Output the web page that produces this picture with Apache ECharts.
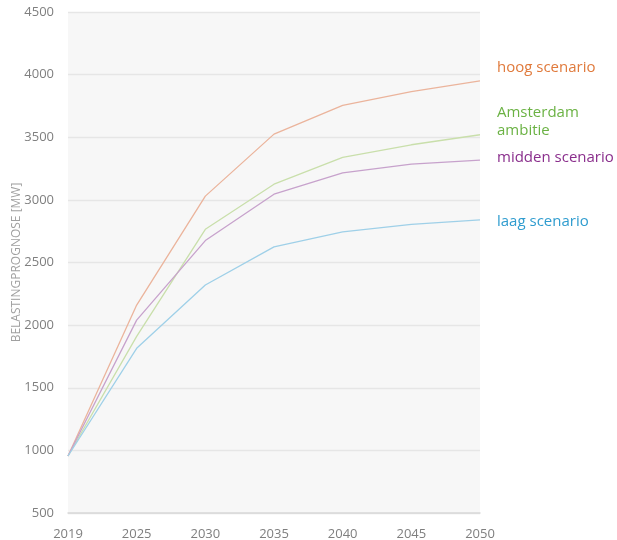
<!DOCTYPE html>
<html>
<head>
<meta charset="utf-8">
<script src="https://cdn.jsdelivr.net/npm/echarts@6/dist/echarts.min.js"></script>
<style>
html,body{margin:0;padding:0;background:#fff;}
#chart{width:617px;height:540px;}
</style>
</head>
<body>
<div id="chart"></div>
<script>
const years = ['2019','2025','2030','2035','2040','2045','2050'];
const hoog = [955, 2160, 3030, 3525, 3755, 3865, 3950];
const amsterdam = [955, 1910, 2765, 3125, 3340, 3440, 3520];
const midden = [955, 2040, 2675, 3045, 3215, 3285, 3318];
const laag = [955, 1815, 2320, 2625, 2745, 2805, 2840];
const yTicks = [500, 1000, 1500, 2000, 2500, 3000, 3500, 4000, 4500];

const FONT = '"Open Sans", "Noto Sans", sans-serif';
const chart = echarts.init(document.getElementById('chart'), null, {renderer:'canvas'});

function line(name, data, color){
  return {name, type:'line', data, symbol:'none', smooth:false,
    lineStyle:{color, width:1.3}, itemStyle:{color}, silent:true, animation:false};
}

chart.setOption({
  animation:false,
  grid:{left:68, right:137, top:12, bottom:27, show:true, backgroundColor:'#f7f7f7', borderWidth:0,
    containLabel:false, outerBoundsMode:'none'},
  xAxis:{type:'category', data:years, boundaryGap:false,
    axisLine:{show:true, lineStyle:{color:'#d9d9d9', width:1.5}},
    axisTick:{show:false},
    axisLabel:{color:'#7f7f7f', fontFamily:FONT, fontSize:13, margin:15},
    splitLine:{show:false}},
  yAxis:{type:'value', min:yTicks[0], max:yTicks[yTicks.length-1], interval:500,
    name:'BELASTINGPROGNOSE [MW]', nameLocation:'middle', nameGap:45, nameRotate:90,
    nameMoveOverlap:false,
    nameTextStyle:{color:'#a0a0a0', fontFamily:FONT, fontSize:12},
    axisLine:{show:false}, axisTick:{show:false},
    axisLabel:{color:'#7f7f7f', fontFamily:FONT, fontSize:13, margin:14,
      formatter:(v)=>String(v)},
    splitLine:{show:true, lineStyle:{color:'#e6e6e6', width:1.3}}},
  series:[
    line('hoog scenario', hoog, '#ebb49c'),
    line('Amsterdam ambitie', amsterdam, '#c9dfab'),
    line('midden scenario', midden, '#c7a2cc'),
    line('laag scenario', laag, '#9fd0e8')
  ],
  graphic:[
    {type:'text', left:497, top:60, style:{text:'hoog scenario', fill:'#e07a3c', font:'15px '+FONT}},
    {type:'text', left:497, top:104, style:{text:'Amsterdam\nambitie', fill:'#6bb244', font:'15px '+FONT, lineHeight:18}},
    {type:'text', left:497, top:150, style:{text:'midden scenario', fill:'#8a2e8c', font:'15px '+FONT}},
    {type:'text', left:497, top:214, style:{text:'laag scenario', fill:'#2f9ccf', font:'15px '+FONT}}
  ]
});
</script>
</body>
</html>
